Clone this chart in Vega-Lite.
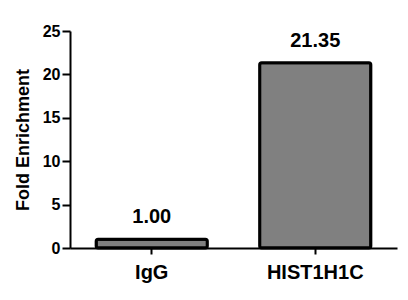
{
  "$schema": "https://vega.github.io/schema/vega-lite/v6.json",
  "width": 327,
  "height": 217,
  "autosize": {"type": "none"},
  "padding": {"left": 70, "top": 31, "right": 11, "bottom": 52},
  "background": "white",
  "config": {
    "view": {"stroke": null},
    "font": "Liberation Sans",
    "axis": {
      "domainColor": "black",
      "domainWidth": 2,
      "tickColor": "black",
      "tickWidth": 2,
      "labelColor": "black",
      "labelFont": "Liberation Sans",
      "labelFontWeight": "bold",
      "titleColor": "black",
      "titleFont": "Liberation Sans",
      "titleFontWeight": "bold",
      "grid": false
    }
  },
  "data": {
    "values": [
      {"target": "IgG", "fold": 1.00},
      {"target": "HIST1H1C", "fold": 21.35}
    ]
  },
  "encoding": {
    "x": {
      "field": "target",
      "type": "nominal",
      "sort": ["IgG", "HIST1H1C"],
      "scale": {"paddingInner": 0.32, "paddingOuter": 0.16},
      "axis": {
        "title": null,
        "labelAngle": 0,
        "labelFontSize": 20,
        "labelPadding": 8,
        "tickSize": 6
      }
    },
    "y": {
      "field": "fold",
      "type": "quantitative",
      "scale": {"domain": [0, 25], "nice": false},
      "axis": {
        "title": "Fold Enrichment",
        "titleFontSize": 18,
        "titlePadding": 10,
        "values": [0, 5, 10, 15, 20, 25],
        "labelFontSize": 16,
        "labelPadding": 2,
        "tickSize": 8
      }
    }
  },
  "layer": [
    {
      "mark": {
        "type": "bar",
        "fill": "#808080",
        "stroke": "black",
        "strokeWidth": 3,
        "cornerRadius": 2
      }
    },
    {
      "mark": {
        "type": "text",
        "fontSize": 20,
        "fontWeight": "bold",
        "color": "black",
        "baseline": "alphabetic",
        "dy": -16
      },
      "encoding": {
        "text": {"field": "fold", "type": "quantitative", "format": ".2f"}
      }
    }
  ]
}
